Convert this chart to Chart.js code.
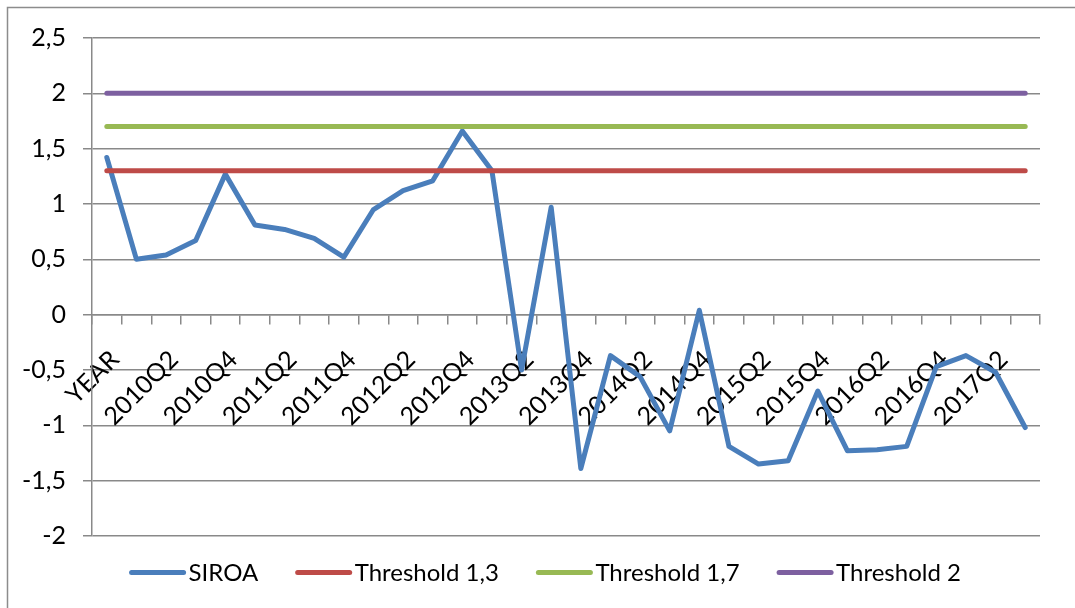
<!DOCTYPE html>
<html>
<head>
<meta charset="utf-8">
<script src="https://cdn.jsdelivr.net/npm/chart.js@4/dist/chart.umd.min.js"></script>
<style>
  html, body { margin: 0; padding: 0; background: #fff; }
  #wrap { width: 1075px; height: 608px; }
</style>
</head>
<body>
<div id="wrap"><canvas id="lineChart" width="1075" height="608"></canvas></div>
<script>
const categories = ["YEAR",
    "2010Q1", "2010Q2", "2010Q3", "2010Q4",
    "2011Q1", "2011Q2", "2011Q3", "2011Q4",
    "2012Q1", "2012Q2", "2012Q3", "2012Q4",
    "2013Q1", "2013Q2", "2013Q3", "2013Q4",
    "2014Q1", "2014Q2", "2014Q3", "2014Q4",
    "2015Q1", "2015Q2", "2015Q3", "2015Q4",
    "2016Q1", "2016Q2", "2016Q3", "2016Q4",
    "2017Q1", "2017Q2", "2017Q3"];

const siroa = [1.42, 0.50, 0.54, 0.67, 1.27, 0.81, 0.77, 0.69, 0.52, 0.95, 1.12, 1.21, 1.66, 1.30, -0.50, 0.97,
    -1.39, -0.37, -0.56, -1.05, 0.04, -1.19, -1.35, -1.32, -0.69, -1.23, -1.22, -1.19, -0.47, -0.37, -0.52, -1.02];

const threshold13 = [1.3, 1.3, 1.3, 1.3, 1.3, 1.3, 1.3, 1.3, 1.3, 1.3, 1.3, 1.3, 1.3, 1.3, 1.3, 1.3,
    1.3, 1.3, 1.3, 1.3, 1.3, 1.3, 1.3, 1.3, 1.3, 1.3, 1.3, 1.3, 1.3, 1.3, 1.3, 1.3];
const threshold17 = [1.7, 1.7, 1.7, 1.7, 1.7, 1.7, 1.7, 1.7, 1.7, 1.7, 1.7, 1.7, 1.7, 1.7, 1.7, 1.7,
    1.7, 1.7, 1.7, 1.7, 1.7, 1.7, 1.7, 1.7, 1.7, 1.7, 1.7, 1.7, 1.7, 1.7, 1.7, 1.7];
const threshold2 = [2, 2, 2, 2, 2, 2, 2, 2, 2, 2, 2, 2, 2, 2, 2, 2,
    2, 2, 2, 2, 2, 2, 2, 2, 2, 2, 2, 2, 2, 2, 2, 2];

const gridColor = "#898989";
const fontFamily = "Lato, 'Liberation Sans', sans-serif";
const fontSize = 24;

// moldura cinza do gráfico (sai pela direita e por baixo, como no original)
const chartFrame = {
    id: "chartFrame",
    beforeDraw(chart) {
        const c = chart.ctx;
        c.save();
        c.fillStyle = "#fff";
        c.fillRect(0, 0, chart.width, chart.height);
        c.strokeStyle = "#8c8c8c";
        c.lineWidth = 1.5;
        c.strokeRect(7.5, 7.5, 2000, 2000);
        c.restore();
    }
};

// legenda no estilo do Excel: traço curto e texto logo ao lado
const excelLegend = {
    id: "excelLegend",
    afterDraw(chart) {
        const c = chart.ctx;
        const sample = 52, gapText = 5, gapItem = 37;
        const y = chart.chartArea.bottom + 36.5;
        c.save();
        c.font = fontSize + "px " + fontFamily;
        c.textBaseline = "middle";
        const items = chart.data.datasets.map((ds) => ({
            label: ds.label,
            color: ds.borderColor,
            width: sample + 2.5 + gapText + c.measureText(ds.label).width
        }));
        const total = items.reduce((s, it) => s + it.width, 0) + gapItem * (items.length - 1);
        let x = 545 - total / 2;
        items.forEach((it) => {
            c.strokeStyle = it.color;
            c.lineWidth = 5;
            c.lineCap = "round";
            c.beginPath();
            c.moveTo(x + 2.5, y);
            c.lineTo(x + 2.5 + sample, y);
            c.stroke();
            c.fillStyle = "#000";
            c.fillText(it.label, x + 2.5 + sample + gapText, y + 1);
            x += it.width + gapItem;
        });
        c.restore();
    }
};

function serie(label, data, color, order) {
    return {
        label: label,
        data: data,
        borderColor: color,
        backgroundColor: color,
        borderWidth: 5,
        borderCapStyle: "round",
        borderJoinStyle: "round",
        pointRadius: 0,
        tension: 0,
        order: order
    };
}

new Chart(document.getElementById("lineChart").getContext("2d"), {
    type: "line",
    data: {
        labels: categories,
        datasets: [
            serie("SIROA", siroa, "#4a7ebb", 1),
            serie("Threshold 1,3", threshold13, "#be4b48", 0),
            serie("Threshold 1,7", threshold17, "#98b954", 0),
            serie("Threshold 2", threshold2, "#7d60a0", 0)
        ]
    },
    options: {
        responsive: false,
        animation: false,
        layout: { padding: { left: 0, right: 35, top: 38, bottom: 72 } },
        scales: {
            x: {
                position: { y: 0 },
                offset: true,
                border: { color: gridColor, width: 1.5 },
                grid: { offset: true, drawOnChartArea: false, drawTicks: true, tickLength: 9, color: gridColor, lineWidth: 1.5 },
                ticks: {
                    autoSkip: false,
                    minRotation: 45,
                    maxRotation: 45,
                    padding: 21,
                    labelOffset: 8,
                    color: "#000",
                    font: { family: fontFamily, size: 25 },
                    callback: function (value, index) {
                        return index % 2 === 0 ? categories[index] : "";
                    }
                }
            },
            y: {
                min: -2,
                max: 2.5,
                border: { color: gridColor, width: 1.5 },
                grid: { color: gridColor, lineWidth: 1.5, tickLength: 9 },
                afterFit: function (scale) { scale.width = 92; },
                ticks: {
                    stepSize: 0.5,
                    padding: 17,
                    color: "#000",
                    font: { family: fontFamily, size: 25 },
                    callback: function (value) { return String(value).replace(".", ","); }
                }
            }
        },
        plugins: {
            tooltip: { enabled: false },
            legend: { display: false }
        }
    },
    plugins: [chartFrame, excelLegend]
});
</script>
</body>
</html>
